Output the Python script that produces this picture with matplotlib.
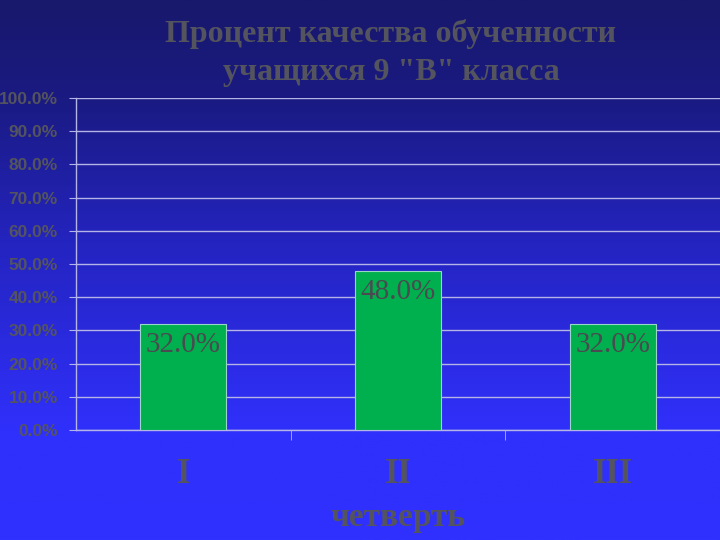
import numpy as np
import matplotlib
matplotlib.use("Agg")
import matplotlib.pyplot as plt
from matplotlib.colors import LinearSegmentedColormap

# data
quarters = ["I", "II", "III"]
quality = [0.32, 0.48, 0.32]
title = 'Процент качества обученности\nучащихся 9 "В" класса'
xlabel = "четверть"

text_col = "#54545e"
grid_col = "#b4b4e6"

fig = plt.figure(figsize=(7.2, 5.4), dpi=100)

# background gradient, dark navy on top to bright blue at the bottom
bg = fig.add_axes([0, 0, 1, 1], zorder=-10)
cmap = LinearSegmentedColormap.from_list(
    "bg", [(0.0, "#3030ff"), (0.2, "#3030fc"), (0.55, "#2424c0"), (0.82, "#1a1a82"), (1.0, "#18186c")])
grad = np.linspace(0, 1, 256).reshape(-1, 1)
bg.imshow(grad, aspect="auto", cmap=cmap, origin="lower", extent=[0, 1, 0, 1])
bg.set_axis_off()

ax = fig.add_axes([76 / 720, 110 / 540, 644 / 720, 332 / 540])
ax.set_facecolor("none")

x = np.arange(len(quarters))
bars = ax.bar(x, quality, width=0.4, color="#00b04e", edgecolor="#9ad6c8", linewidth=0.8, zorder=3)

for b, v in zip(bars, quality):
    ax.annotate("{:.1f}%".format(v * 100), (b.get_x() + b.get_width() / 2, v),
                xytext=(0, -6), textcoords="offset points", ha="center", va="top",
                fontsize=21, family="Liberation Serif", color="#4a4a50", zorder=4)

ax.set_xlim(-0.5, 2.5)
ax.set_ylim(0, 1.0)
ax.set_yticks(np.arange(0, 1.01, 0.1))
ax.set_yticklabels(["{:.1f}%".format(t * 100) for t in np.arange(0, 1.01, 0.1)],
                   fontsize=12.5, fontweight="bold", family="Liberation Sans", color=text_col)
ax.yaxis.grid(True, color=grid_col, linewidth=1.0, zorder=0)
ax.tick_params(axis="y", length=5, color=grid_col, pad=8)

ax.set_xticks(x)
ax.set_xticklabels(quarters, fontsize=25, fontweight="bold", family="Liberation Serif", color=text_col)
ax.tick_params(axis="x", length=0, pad=20)
ax.set_xticks([0.5, 1.5], minor=True)
ax.tick_params(axis="x", which="minor", length=7, color=grid_col)
ax.set_xlabel(xlabel, fontsize=24, fontweight="bold", family="Liberation Serif", color=text_col, labelpad=8)

for s in ["top", "right"]:
    ax.spines[s].set_visible(False)
for s in ["left", "bottom"]:
    ax.spines[s].set_color(grid_col)
    ax.spines[s].set_linewidth(1.0)

fig.text(391 / 720, 1 - 53 / 540, title, ha="center", va="center", fontsize=23,
         fontweight="bold", family="Liberation Serif", color=text_col, linespacing=1.4)

fig.savefig("out.png", dpi=100)
